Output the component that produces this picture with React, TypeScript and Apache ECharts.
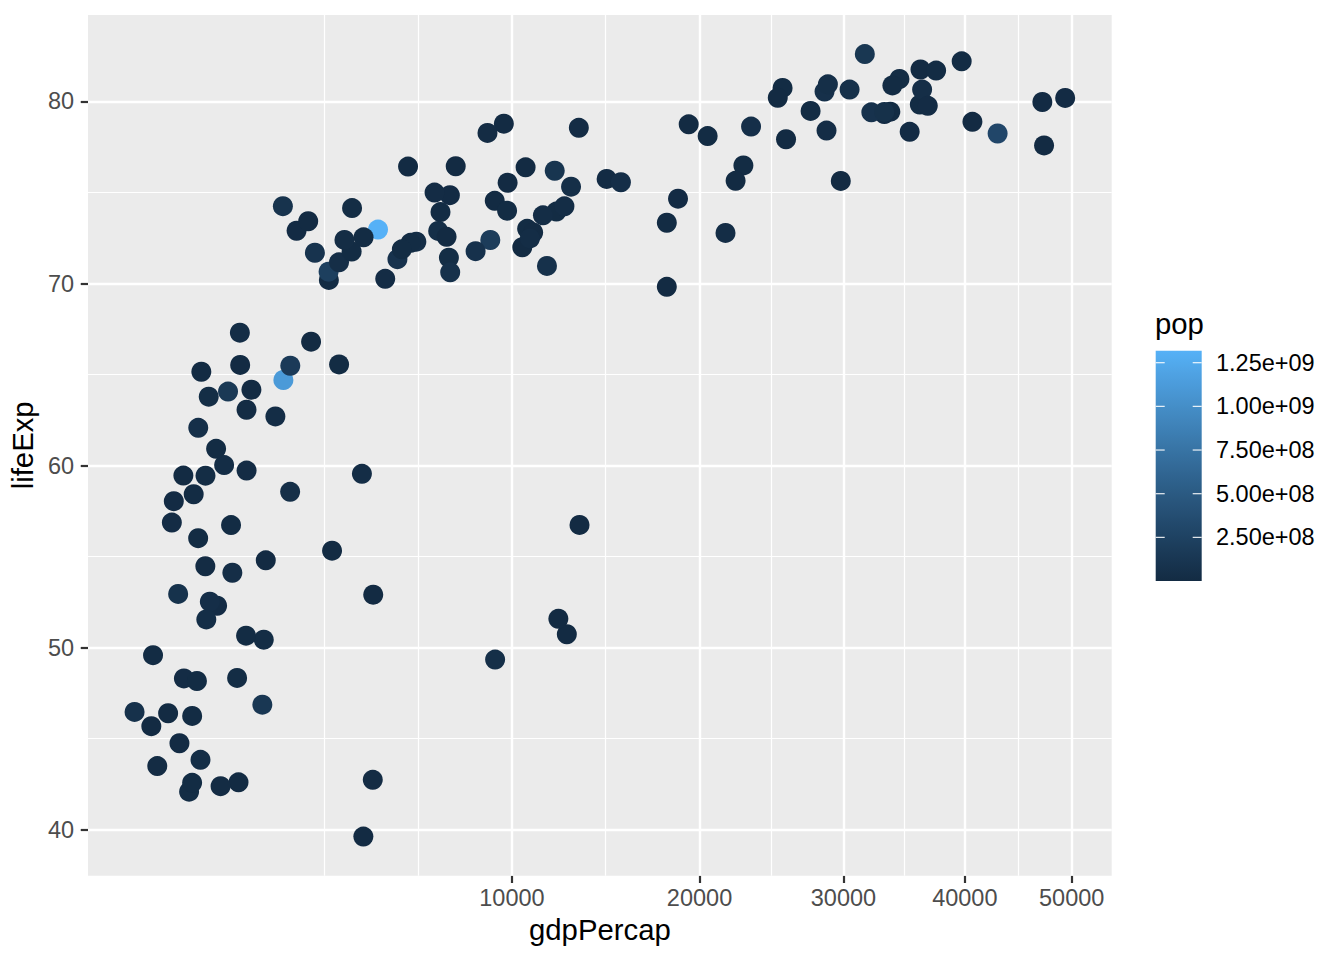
import React, { useEffect, useRef } from "react";
import * as echarts from "echarts";

const countries: string[] = [
  "Afghanistan","Albania","Algeria","Angola","Argentina","Australia","Austria","Bahrain","Bangladesh","Belgium",
  "Benin","Bolivia","Bosnia and Herzegovina","Botswana","Brazil","Bulgaria","Burkina Faso","Burundi","Cambodia","Cameroon",
  "Canada","Central African Republic","Chad","Chile","China","Colombia","Comoros","Congo, Dem. Rep.","Congo, Rep.","Costa Rica",
  "Cote d'Ivoire","Croatia","Cuba","Czech Republic","Denmark","Djibouti","Dominican Republic","Ecuador","Egypt","El Salvador",
  "Equatorial Guinea","Eritrea","Ethiopia","Finland","France","Gabon","Gambia","Germany","Ghana","Greece",
  "Guatemala","Guinea","Guinea-Bissau","Haiti","Honduras","Hong Kong, China","Hungary","Iceland","India","Indonesia",
  "Iran","Iraq","Ireland","Israel","Italy","Jamaica","Japan","Jordan","Kenya","Korea, Dem. Rep.",
  "Korea, Rep.","Kuwait","Lebanon","Lesotho","Liberia","Libya","Madagascar","Malawi","Malaysia","Mali",
  "Mauritania","Mauritius","Mexico","Mongolia","Montenegro","Morocco","Mozambique","Myanmar","Namibia","Nepal",
  "Netherlands","New Zealand","Nicaragua","Niger","Nigeria","Norway","Oman","Pakistan","Panama","Paraguay",
  "Peru","Philippines","Poland","Portugal","Puerto Rico","Reunion","Romania","Rwanda","Sao Tome and Principe","Saudi Arabia",
  "Senegal","Serbia","Sierra Leone","Singapore","Slovak Republic","Slovenia","Somalia","South Africa","Spain","Sri Lanka",
  "Sudan","Swaziland","Sweden","Switzerland","Syria","Taiwan","Tanzania","Thailand","Togo","Trinidad and Tobago",
  "Tunisia","Turkey","Uganda","United Kingdom","United States","Uruguay","Venezuela","Vietnam","West Bank and Gaza","Yemen, Rep.",
  "Zambia","Zimbabwe"
];

const gdpPercap: number[] = [
  974.58,5937.03,6223.37,4797.23,12779.38,34435.37,36126.49,29796.05,1391.25,33692.61,
  1441.28,3822.14,7446.30,12569.85,9065.80,10680.79,1217.03,430.07,1713.78,2042.10,
  36319.24,706.02,1704.06,13171.64,4959.11,7006.58,986.15,277.55,3632.56,9645.06,
  1544.75,14619.22,8948.10,22833.31,35278.42,2082.48,6025.37,6873.26,5581.18,5728.35,
  12154.09,641.37,690.81,33207.08,30470.02,13206.48,752.75,32170.37,1327.61,27538.41,
  5186.05,942.65,579.23,1201.64,3548.33,39724.98,18008.94,36180.79,2452.21,3540.65,
  11605.71,4471.06,40676.00,25523.28,28569.72,7320.88,31656.07,4519.46,1463.25,1593.07,
  23348.14,47306.99,10461.06,1569.33,414.51,12057.50,1044.77,759.35,12451.66,1042.58,
  1803.15,10956.99,11977.57,3095.77,9253.90,3820.18,823.69,944.00,4811.06,1091.36,
  36797.93,25185.01,2749.32,619.68,2013.98,49357.19,22316.19,2605.95,9809.19,4172.84,
  7408.91,3190.48,15389.92,20509.65,19328.71,7670.12,10808.48,863.09,1598.44,21654.83,
  1712.47,9786.53,862.54,47143.18,18678.31,25768.26,926.14,9269.66,28821.06,3970.10,
  2602.39,4513.48,33859.75,37506.42,4184.55,28718.28,1107.48,7458.40,882.97,18008.51,
  7092.92,8458.28,1056.38,33203.26,42951.65,10611.46,11415.81,2441.58,3025.35,2280.77,
  1271.21,469.71
];

const lifeExp: number[] = [
  43.828,76.423,72.301,42.731,75.320,81.235,79.829,75.635,64.062,79.441,
  56.728,65.554,74.852,50.728,72.390,73.005,52.295,49.580,59.723,50.430,
  80.653,44.741,50.651,78.553,72.961,72.889,65.152,46.462,55.322,78.782,
  48.328,75.748,78.273,76.486,78.332,54.791,72.235,74.994,71.338,71.878,
  51.579,58.040,52.947,79.313,80.657,56.735,59.448,79.406,60.022,79.483,
  70.259,56.007,46.388,60.916,70.198,82.208,73.338,81.757,64.698,70.650,
  70.964,59.545,78.885,80.745,80.546,72.567,82.603,72.535,54.110,67.297,
  78.623,77.588,71.993,42.592,45.678,73.952,59.443,48.303,74.241,54.467,
  64.164,72.801,76.195,66.803,74.543,71.164,42.082,62.069,52.906,63.785,
  79.762,80.204,72.899,56.867,46.859,80.196,75.640,65.483,75.537,71.752,
  71.421,71.688,75.563,78.098,78.746,76.442,72.476,46.242,65.528,72.777,
  63.062,74.002,42.568,79.972,74.663,77.926,48.159,49.339,80.941,72.396,
  58.556,39.613,80.884,81.701,74.143,78.400,52.517,70.616,58.420,69.819,
  73.923,71.777,51.542,79.425,78.242,76.384,73.747,74.249,73.422,62.698,
  42.384,43.487
];

const pop: number[] = [
  31889923,3600523,33333216,12420476,40301927,20434176,8199783,708573,150448339,10392226,
  8078314,9119152,4552198,1639131,190010647,7322858,14326203,8390505,14131858,17696293,
  33390141,4369038,10238807,16284741,1318683096,44227550,710960,64606759,3800610,4133884,
  18013409,4493312,11416987,10228744,5468120,496374,9319622,13755680,80264543,6939688,
  551201,4906585,76511887,5238460,61083916,1454867,1688359,82400996,22873338,10706290,
  12572928,9947814,1472041,8502814,7483763,6980412,9956108,301931,1110396331,223547000,
  69453570,27499638,4109086,6426679,58147733,2780132,127467972,6053193,35610177,23301725,
  49044790,2505559,3921278,2012649,3193942,6036914,19167654,13327079,24821286,12031795,
  3270065,1250882,108700891,2874127,684736,33757175,19951656,47761980,2055080,28901790,
  16570613,4115771,5675356,12894865,135031164,4627926,3204897,169270617,3242173,6667147,
  28674757,91077287,38518241,10642836,3942491,798094,22276056,8860588,199579,27601038,
  12267493,10150265,6144562,4553009,5447502,2009245,9118773,43997828,40448191,20378239,
  42292929,1133066,9031088,7554661,19314747,23174294,38139640,65068149,5701579,1056608,
  10276158,71158647,29170398,60776238,301139947,3447496,26084662,85262356,4018332,22211743,
  11746035,12311143
];

const xBreaks: number[] = [10000, 20000, 30000, 40000, 50000];
const yBreaks: number[] = [40, 50, 60, 70, 80];
const yMinorBreaks: number[] = [45, 55, 65, 75];
const popBreaks: number[] = [250000000, 500000000, 750000000, 1000000000, 1250000000];
const popBreakLabels: string[] = ["2.50e+08", "5.00e+08", "7.50e+08", "1.00e+09", "1.25e+09"];

const LOW = "#132B43";
const HIGH = "#56B1F7";
const FONT = "'Liberation Sans', Arial, Helvetica, sans-serif";

// --- Lab colour interpolation (like ggplot's gradient) ---
function hexToRgb(h: string) {
  const n = parseInt(h.slice(1), 16);
  return [(n >> 16) & 255, (n >> 8) & 255, n & 255];
}
function toLin(c: number) { c /= 255; return c <= 0.04045 ? c / 12.92 : Math.pow((c + 0.055) / 1.055, 2.4); }
function fromLin(c: number) { const v = c <= 0.0031308 ? 12.92 * c : 1.055 * Math.pow(c, 1 / 2.4) - 0.055; return Math.max(0, Math.min(255, Math.round(v * 255))); }
const Xn = 0.95047, Yn = 1, Zn = 1.08883;
function f(t: number) { return t > 0.008856 ? Math.cbrt(t) : 7.787 * t + 16 / 116; }
function fi(t: number) { return t > 0.206893 ? t * t * t : (t - 16 / 116) / 7.787; }
function rgbToLab(rgb: number[]) {
  const [r, g, b] = rgb.map(toLin);
  const X = 0.4124 * r + 0.3576 * g + 0.1805 * b;
  const Y = 0.2126 * r + 0.7152 * g + 0.0722 * b;
  const Z = 0.0193 * r + 0.1192 * g + 0.9505 * b;
  const fx = f(X / Xn), fy = f(Y / Yn), fz = f(Z / Zn);
  return [116 * fy - 16, 500 * (fx - fy), 200 * (fy - fz)];
}
function labToHex(lab: number[]) {
  const fy = (lab[0] + 16) / 116, fx = fy + lab[1] / 500, fz = fy - lab[2] / 200;
  const X = fi(fx) * Xn, Y = fi(fy) * Yn, Z = fi(fz) * Zn;
  const r = 3.2406 * X - 1.5372 * Y - 0.4986 * Z;
  const g = -0.9689 * X + 1.8758 * Y + 0.0415 * Z;
  const b = 0.0557 * X - 0.204 * Y + 1.057 * Z;
  return "#" + [r, g, b].map((c) => fromLin(c).toString(16).padStart(2, "0")).join("");
}
const labLow = rgbToLab(hexToRgb(LOW));
const labHigh = rgbToLab(hexToRgb(HIGH));
const NSTOPS = 21;
const rampColors: string[] = [];
for (let i = 0; i < NSTOPS; i++) {
  const t = i / (NSTOPS - 1);
  rampColors.push(labToHex(labLow.map((v, k) => v + (labHigh[k] - v) * t)));
}

export default function App() {
  const ref = useRef<HTMLDivElement>(null);
  useEffect(() => {
    if (!ref.current) return;
    const chart = echarts.init(ref.current, null, { renderer: "svg" });

    const sx = gdpPercap.map(Math.sqrt);
    const sMin = Math.min(...sx), sMax = Math.max(...sx);
    const xPad = (sMax - sMin) * 0.05;
    const xMin = sMin - xPad, xMax = sMax + xPad;
    const lMin = Math.min(...lifeExp), lMax = Math.max(...lifeExp);
    const yPad = (lMax - lMin) * 0.05;
    const yMin = lMin - yPad, yMax = lMax + yPad;

    const xMajor = xBreaks.map(Math.sqrt);
    const step0 = xMajor[1] - xMajor[0];
    const stepN = xMajor[xMajor.length - 1] - xMajor[xMajor.length - 2];
    const ext = [xMajor[0] - step0, ...xMajor, xMajor[xMajor.length - 1] + stepN];
    const xMinor: number[] = [];
    for (let i = 0; i < ext.length - 1; i++) {
      const m = (ext[i] + ext[i + 1]) / 2;
      if (m > xMin && m < xMax) xMinor.push(m);
    }
    if (ext[0] > xMin) xMinor.push(ext[0]);

    const popMin = Math.min(...pop), popMax = Math.max(...pop);

    const data = countries.map((c, i) => ({ name: c, value: [sx[i], lifeExp[i], pop[i]] }));

    // legend colourbar geometry
    const barX = 1155.7, barTop = 350.7, barW = 46, barH = 230.3;
    const barBottom = barTop + barH;
    const legendGraphics: any[] = [
      {
        type: "text", x: 1155, y: 323, z: 10,
        style: { text: "pop", fontSize: 29.3, fontFamily: FONT, fill: "#000", verticalAlign: "middle", align: "left" },
      },
      {
        type: "rect", z: 10, shape: { x: barX, y: barTop, width: barW, height: barH },
        style: {
          fill: {
            type: "linear", x: 0, y: 1, x2: 0, y2: 0,
            colorStops: rampColors.map((c, i) => ({ offset: i / (NSTOPS - 1), color: c })),
          },
        },
      },
    ];
    popBreaks.forEach((v, i) => {
      const y = barBottom - ((v - popMin) / (popMax - popMin)) * barH;
      legendGraphics.push(
        { type: "rect", z: 12, shape: { x: barX, y: y - 0.6, width: 9, height: 1.2 }, style: { fill: "#ffffff", stroke: "none", opacity: 0.9 } },
        { type: "rect", z: 12, shape: { x: barX + barW - 9, y: y - 0.6, width: 9, height: 1.2 }, style: { fill: "#ffffff", stroke: "none", opacity: 0.9 } },
        {
          type: "text", z: 12, x: 1216, y,
          style: { text: popBreakLabels[i], fontSize: 23.5, fontFamily: FONT, fill: "#000", verticalAlign: "middle", align: "left" },
        }
      );
    });

    const option: any = {
      animation: false,
      backgroundColor: "#ffffff",
      grid: {
        left: 88, right: 232.3, top: 15, bottom: 84.3,
        show: true, backgroundColor: "#EBEBEB", borderWidth: 0,
      },
      xAxis: {
        type: "value", min: xMin, max: xMax,
        name: "gdpPercap", nameLocation: "middle", nameGap: 38,
        nameTextStyle: { fontSize: 29.3, fontFamily: FONT, color: "#000" },
        axisLine: { show: false },
        axisTick: { show: true, length: 7.3, customValues: xMajor, lineStyle: { color: "#333333", width: 2.2 } },
        axisLabel: {
          customValues: xMajor, margin: 10, fontSize: 23.5, fontFamily: FONT, color: "#4D4D4D",
          formatter: (v: number) => String(Math.round(v * v)),
        },
        splitLine: { show: false },
      },
      yAxis: {
        type: "value", min: yMin, max: yMax,
        name: "lifeExp", nameLocation: "middle", nameGap: 46, nameRotate: 90,
        nameTextStyle: { fontSize: 29.3, fontFamily: FONT, color: "#000" },
        axisLine: { show: false },
        axisTick: { show: true, length: 7.3, customValues: yBreaks, lineStyle: { color: "#333333", width: 2.2 } },
        axisLabel: { customValues: yBreaks, margin: 14, fontSize: 23.5, fontFamily: FONT, color: "#4D4D4D" },
        splitLine: { show: false },
      },
      visualMap: {
        show: false, type: "continuous", dimension: 2, seriesIndex: 2,
        min: popMin, max: popMax, inRange: { color: rampColors, opacity: 1 },
      },
      series: [
        {
          type: "scatter", data: [], silent: true,
          markLine: {
            silent: true, z: 1, symbol: ["none", "none"], label: { show: false },
            lineStyle: { color: "#ffffff", width: 1.2, type: "solid" },
            emphasis: { disabled: true },
            data: [...xMinor.map((v) => ({ xAxis: v })), ...yMinorBreaks.map((v) => ({ yAxis: v }))],
          },
        },
        {
          type: "scatter", data: [], silent: true,
          markLine: {
            silent: true, z: 1, symbol: ["none", "none"], label: { show: false },
            lineStyle: { color: "#ffffff", width: 2.4, type: "solid" },
            emphasis: { disabled: true },
            data: [...xMajor.map((v) => ({ xAxis: v })), ...yBreaks.map((v) => ({ yAxis: v }))],
          },
        },
        {
          type: "scatter", name: "pop", z: 3,
          symbol: "circle", symbolSize: 20,
          itemStyle: { opacity: 1 },
          data,
        },
      ],
      graphic: legendGraphics,
    };
    chart.setOption(option);
    return () => chart.dispose();
  }, []);
  return <div ref={ref} style={{ position: "absolute", left: 0, top: 0, width: 1344, height: 960 }} />;
}
